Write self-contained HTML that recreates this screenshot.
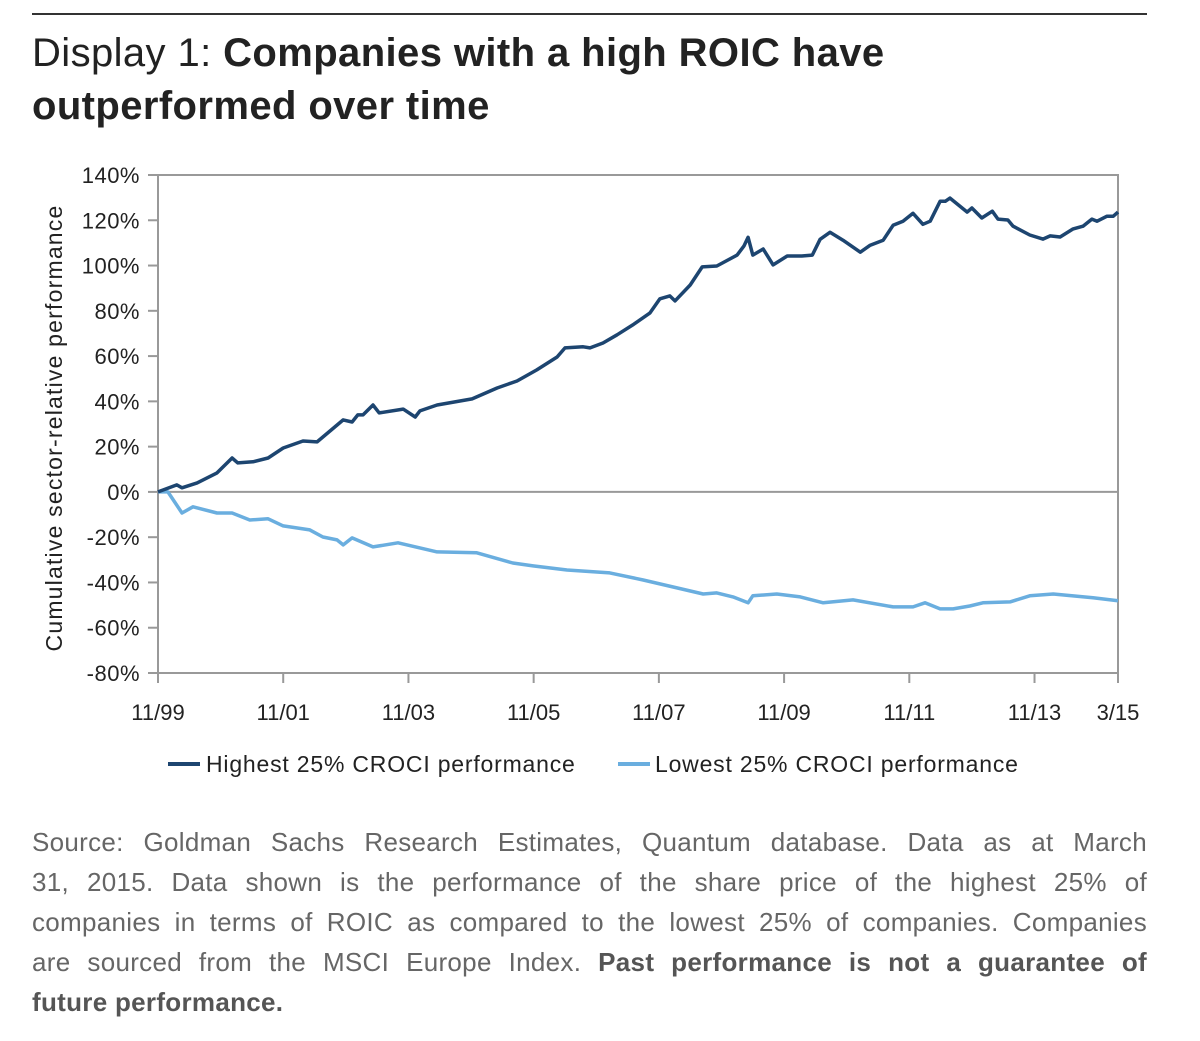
<!DOCTYPE html>
<html><head><meta charset="utf-8"><style>
body{margin:0;background:#fff;width:1200px;height:1041px;overflow:hidden;font-family:"Liberation Sans",sans-serif;}
.rule{position:absolute;left:32px;top:13px;width:1115px;height:2px;background:#333;}
.title{position:absolute;left:32px;top:27px;font-size:40px;line-height:53px;color:#222;letter-spacing:0.4px;}
.title b{font-weight:bold}
.src{position:absolute;left:32px;top:822px;width:1115px;font-size:26px;line-height:40px;color:#666;letter-spacing:0.3px;}
.src div{text-align:justify;text-align-last:justify;white-space:nowrap;}
.src div.last{text-align-last:left}
.src b{color:#555}
</style></head><body>
<div class="rule"></div>
<div class="title"><span style="font-weight:300">Display 1: </span><b>Companies with a high ROIC have<br>outperformed over time</b></div>
<svg id="chart" width="1200" height="800" style="position:absolute;left:0;top:0"></svg>
<div class="src">
<div>Source: Goldman Sachs Research Estimates, Quantum database. Data as at March</div>
<div>31, 2015. Data shown is the performance of the share price of the highest 25% of</div>
<div>companies in terms of ROIC as compared to the lowest 25% of companies. Companies</div>
<div>are sourced from the MSCI Europe Index. <b>Past performance is not a guarantee of</b></div>
<div class="last"><b>future performance.</b></div>
</div>
<script>
const yTicks=[140,120,100,80,60,40,20,0,-20,-40,-60,-80];
const xTickLabels=["11/99","11/01","11/03","11/05","11/07","11/09","11/11","11/13","3/15"];
const xTickMonths=[0,24,48,72,96,120,144,168,184];
const highMonths=[0,3.6,4.6,7.5,11.3,14.2,15.3,18.2,21.1,24,27.8,30.5,35.5,37.2,38.3,39.3,41.2,42.4,47,49.3,50.2,53.5,60.2,65,68.8,72.6,76.5,78,81.5,82.8,85.3,88,91,94.3,96.2,98.1,99.1,102,104.3,107.1,111,112.3,113.1,114,116,117.9,120.6,123.4,125.4,126.9,128.8,131.3,134.6,136.5,139,140.9,142.8,144.7,146.6,148,149.9,150.9,151.8,155.1,156,157.9,159.9,161,162.9,163.9,167.1,169.6,171,172.9,175.4,177.3,179,180,181.9,183.1,184];
const highValues=[0,3.1,1.8,4.0,8.4,15.0,12.8,13.3,15.0,19.4,22.5,22.1,31.8,30.9,34.0,34.0,38.4,34.9,36.6,33.1,35.8,38.4,41.1,45.9,49.0,53.9,59.6,63.6,64.1,63.6,65.8,69.4,73.8,79.1,85.3,86.6,84.4,91.4,99.4,99.8,104.6,108.6,112.5,104.6,107.3,100.3,104.2,104.2,104.6,111.6,114.7,111.2,105.9,109.0,111.2,117.8,119.6,123.1,118.2,119.6,128.4,128.4,129.8,123.6,125.4,121.0,124.0,120.5,120.1,117.4,113.5,111.7,113.1,112.6,116.2,117.4,120.5,119.6,121.8,121.8,123.6];
const lowMonths=[0,1.9,4.6,6.7,11.3,14.2,17.6,21.1,24,29.1,31.6,34.3,35.5,37.2,41.2,46,53.5,61.1,68,71.9,78.4,86.6,93,104.5,107.1,110.2,113.1,114,118.6,123.1,127.5,133.2,140.9,144.7,147,149.9,152.4,155.6,158.1,163.3,167.1,171.6,179.2,184];
const lowValues=[0,0,-9.3,-6.6,-9.3,-9.3,-12.4,-11.9,-15,-16.8,-19.9,-21.2,-23.4,-20.3,-24.3,-22.5,-26.5,-26.9,-31.4,-32.7,-34.5,-35.8,-38.9,-45.1,-44.6,-46.4,-49,-45.9,-45.1,-46.4,-49,-47.7,-50.8,-50.8,-49,-51.7,-51.7,-50.4,-49,-48.6,-45.9,-45.1,-46.8,-48.1];
const X0=158,X1=1118,Y0=175,Y1=673;
const xs=m=>X0+(X1-X0)*m/184;
const ys=v=>Y0+(Y1-Y0)*(140-v)/220;
const svg=document.getElementById('chart');
const NS='http://www.w3.org/2000/svg';
function mk(t,a){const e=document.createElementNS(NS,t);for(const k in a)e.setAttribute(k,a[k]);svg.appendChild(e);return e;}
let e=mk('rect',{x:X0,y:Y0,width:X1-X0,height:Y1-Y0,fill:'none',stroke:'#999','stroke-width':2});


e=mk('line',{x1:X0,x2:X1,y1:ys(0),y2:ys(0),stroke:'#999','stroke-width':2});


yTicks.forEach(v=>{
 const t=mk('line',{x1:X0-10,x2:X0,y1:ys(v),y2:ys(v),stroke:'#999','stroke-width':2});
 
 
 const l=mk('text',{x:140,y:ys(v)+8,'text-anchor':'end','font-size':22,fill:'#222','letter-spacing':0.5});
 l.textContent=v+'%';
 
 
});
xTickMonths.forEach((m,i)=>{
 const t=mk('line',{x1:xs(m),x2:xs(m),y1:Y1,y2:Y1+10,stroke:'#999','stroke-width':2});
 
 
 const l=mk('text',{x:xs(m),y:720,'text-anchor':'middle','font-size':22,fill:'#222'});
 l.textContent=xTickLabels[i];
 
 
});
e=mk('text',{x:0,y:0,transform:'translate(62,428) rotate(-90)','text-anchor':'middle','font-size':23,fill:'#222','letter-spacing':1.2});
e.textContent='Cumulative sector-relative performance';


function pts(ms,vs){return ms.map((m,i)=>xs(m).toFixed(1)+','+ys(vs[i]).toFixed(1)).join(' ');}
e=mk('polyline',{points:pts(lowMonths,lowValues),fill:'none',stroke:'#6aaedf','stroke-width':3.5,'stroke-linejoin':'round'});


e=mk('polyline',{points:pts(highMonths,highValues),fill:'none',stroke:'#1d4570','stroke-width':3.5,'stroke-linejoin':'round'});


e=mk('line',{x1:168,x2:200,y1:764,y2:764,stroke:'#1d4570','stroke-width':4});


e=mk('text',{x:206,y:772,'font-size':23,fill:'#222','letter-spacing':0.8});
e.textContent='Highest 25% CROCI performance';


e=mk('line',{x1:618,x2:650,y1:764,y2:764,stroke:'#6aaedf','stroke-width':4});


e=mk('text',{x:655,y:772,'font-size':23,fill:'#222','letter-spacing':0.8});
e.textContent='Lowest 25% CROCI performance';


</script>
</body></html>
